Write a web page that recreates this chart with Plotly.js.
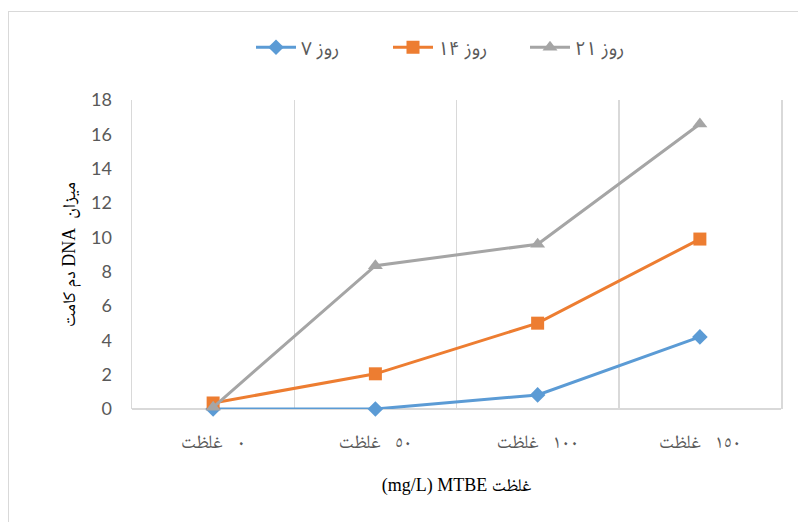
<!DOCTYPE html>
<html>
<head>
<meta charset="utf-8">
<script src="https://cdn.plot.ly/plotly-3.0.1.min.js"></script>
<style>
  html, body { margin: 0; padding: 0; background: #fff; }
  #wrap { position: relative; width: 798px; height: 522px; overflow: hidden; }
  #frame { position: absolute; left: 8px; top: 11px; width: 900px; height: 600px;
           border-left: 1.5px solid #D9D9D9; border-top: 1.5px solid #D9D9D9; pointer-events: none; z-index: 2; }
  #chart { position: absolute; left: 0; top: 0; width: 798px; height: 522px; }
</style>
</head>
<body>
<div id="wrap">
  <div id="chart"></div>
  <div id="frame"></div>
</div>
<script>
// Categories (x tick labels)
const categories = [
  "غلظت\u200E   \u0660",
  "غلظت\u200E   \u0665\u0660",
  "غلظت\u200E   \u0661\u0660\u0660",
  "غلظت\u200E   \u0661\u0665\u0660"
];
// Series names
const seriesNames = ["روز ۷", "روز ۱۴", "روز ۲۱"];
// Series values
const day7  = [0, 0, 0.82, 4.2];
const day14 = [0.35, 2.05, 5.0, 9.9];
const day21 = [0.1, 8.35, 9.6, 16.6];
// Y ticks
const yTicks = [0, 2, 4, 6, 8, 10, 12, 14, 16, 18];

const colors = ["#5B9BD5", "#ED7D31", "#A5A5A5"];
const symbols = ["diamond", "square", "triangle-up"];
const seriesData = [day7, day14, day21];

const arabicSans = "'Noto Sans Arabic', 'DejaVu Sans', sans-serif";
const arabicSerif = "'Liberation Serif', 'Noto Naskh Arabic', 'Noto Sans Arabic', 'DejaVu Sans', serif";

const traces = seriesData.map((vals, i) => ({
  type: "scatter",
  mode: "lines+markers",
  name: seriesNames[i],
  x: categories,
  y: vals,
  line: { color: colors[i], width: 3 },
  marker: { color: colors[i], symbol: symbols[i], size: i === 0 ? 12 : 13 },
  cliponaxis: false
}));

const layout = {
  width: 798,
  height: 522,
  margin: { l: 132, r: 17, t: 100, b: 113 },
  paper_bgcolor: "#fff",
  plot_bgcolor: "#fff",
  showlegend: true,
  legend: {
    orientation: "h",
    x: 0.5, xanchor: "center",
    y: 1.17, yanchor: "middle",
    font: { family: arabicSans, size: 19, color: "#595959" },
    traceorder: "normal",
    entrywidth: 82,
    itemwidth: 40
  },
  xaxis: {
    type: "category",
    range: [-0.5, 3.5],
    tickson: "boundaries",
    showgrid: true,
    gridcolor: "#D9D9D9",
    gridwidth: 1.5,
    showline: false,
    zeroline: false,
    ticks: "",
    ticklabelstandoff: 19,
    tickfont: { family: arabicSerif, size: 19, color: "#595959" },
    title: {
      text: "(mg/L) MTBE غلظت",
      font: { family: arabicSerif, size: 18, color: "#000" },
      standoff: 27
    },
    fixedrange: true
  },
  yaxis: {
    range: [0, 18],
    tickvals: yTicks,
    ticktext: yTicks.map(String),
    showgrid: false,
    zeroline: true,
    zerolinecolor: "#D9D9D9",
    zerolinewidth: 1.5,
    showline: true,
    mirror: true,
    linecolor: "#D9D9D9",
    linewidth: 1.5,
    ticks: "",
    ticklabelstandoff: 15,
    tickfont: { family: "Lato, 'Open Sans', sans-serif", size: 18, color: "#595959" },
    title: {
      text: "\u202Bمیزان  DNA دم کامت\u202C",
      font: { family: arabicSerif, size: 18, color: "#000" },
      standoff: 10
    },
    fixedrange: true
  }
};

Plotly.newPlot("chart", traces, layout, { displayModeBar: false, staticPlot: true });
</script>
</body>
</html>
